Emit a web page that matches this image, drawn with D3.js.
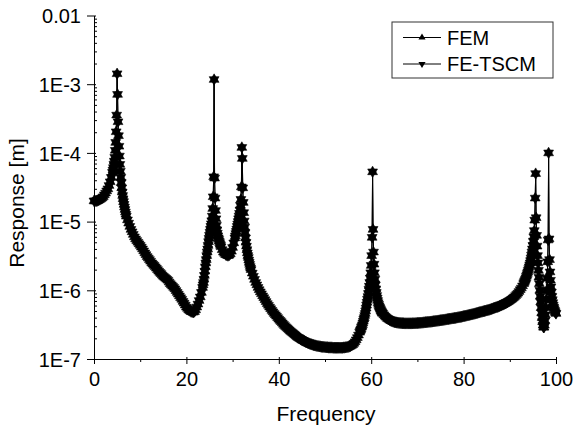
<!DOCTYPE html>
<html>
<head>
<meta charset="utf-8">
<script src="https://cdn.jsdelivr.net/npm/d3@7"></script>
<style>
  body { margin: 0; background: #fff; }
  svg text { font-family: "Liberation Sans", Arial, sans-serif; fill: #000; }
</style>
</head>
<body>
<svg id="chart" width="573" height="430"></svg>
<script>
// response, sweep every 0.25 Hz from 0 to 100 Hz (8 values = 2 Hz per row)
const baseStep = 0.25;
const baseResp = [
  2.0e-5, 2.0e-5, 2.0e-5, 2.02e-5, 2.05e-5, 2.1e-5, 2.15e-5, 2.22e-5,
  2.3e-5, 2.45e-5, 2.6e-5, 2.8e-5, 3.0e-5, 3.35e-5, 3.8e-5, 4.4e-5,
  5.2e-5, 6.4e-5, 8.6e-5, 1.7e-4, 1.42e-3, 2.3e-4, 9.0e-5, 4.9e-5,
  3.1e-5, 2.3e-5, 1.78e-5, 1.45e-5, 1.2e-5, 1.06e-5, 9.5e-6, 8.5e-6,
  7.7e-6, 7.1e-6, 6.5e-6, 6.0e-6, 5.6e-6, 5.3e-6, 5.0e-6, 4.75e-6,
  4.5e-6, 4.25e-6, 4.0e-6, 3.75e-6, 3.5e-6, 3.3e-6, 3.1e-6, 2.95e-6,
  2.8e-6, 2.65e-6, 2.5e-6, 2.4e-6, 2.3e-6, 2.2e-6, 2.1e-6, 2.0e-6,
  1.9e-6, 1.82e-6, 1.75e-6, 1.67e-6, 1.6e-6, 1.55e-6, 1.5e-6, 1.45e-6,
  1.4e-6, 1.32e-6, 1.25e-6, 1.2e-6, 1.15e-6, 1.1e-6, 1.05e-6, 9.9e-7,
  9.3e-7, 8.8e-7, 8.3e-7, 7.8e-7, 7.4e-7, 6.9e-7, 6.5e-7, 6.1e-7,
  5.7e-7, 5.45e-7, 5.2e-7, 5.05e-7, 4.9e-7, 4.85e-7, 4.8e-7, 4.9e-7,
  5.2e-7, 5.7e-7, 6.3e-7, 7.1e-7, 8.0e-7, 9.3e-7, 1.1e-6, 1.45e-6,
  1.9e-6, 2.6e-6, 3.6e-6, 4.8e-6, 6.3e-6, 8.0e-6, 1.03e-5, 1.4e-5,
  1.17e-3, 1.3e-5, 8.8e-6, 6.5e-6, 5.5e-6, 4.8e-6, 4.3e-6, 3.9e-6,
  3.6e-6, 3.45e-6, 3.3e-6, 3.25e-6, 3.2e-6, 3.25e-6, 3.4e-6, 3.7e-6,
  4.2e-6, 4.9e-6, 5.8e-6, 7.0e-6, 8.5e-6, 1.05e-5, 1.32e-5, 1.9e-5,
  1.2e-4, 2.4e-5, 1.02e-5, 6.3e-6, 4.4e-6, 3.4e-6, 2.75e-6, 2.3e-6,
  2.0e-6, 1.78e-6, 1.6e-6, 1.44e-6, 1.3e-6, 1.2e-6, 1.1e-6, 1.02e-6,
  9.5e-7, 8.9e-7, 8.3e-7, 7.8e-7, 7.3e-7, 6.85e-7, 6.4e-7, 6.05e-7,
  5.7e-7, 5.4e-7, 5.1e-7, 4.85e-7, 4.6e-7, 4.4e-7, 4.2e-7, 4.0e-7,
  3.8e-7, 3.65e-7, 3.5e-7, 3.35e-7, 3.2e-7, 3.07e-7, 2.95e-7, 2.85e-7,
  2.75e-7, 2.65e-7, 2.55e-7, 2.47e-7, 2.4e-7, 2.32e-7, 2.25e-7, 2.17e-7,
  2.1e-7, 2.05e-7, 2.0e-7, 1.95e-7, 1.9e-7, 1.86e-7, 1.82e-7, 1.78e-7,
  1.75e-7, 1.72e-7, 1.69e-7, 1.66e-7, 1.64e-7, 1.62e-7, 1.6e-7, 1.58e-7,
  1.57e-7, 1.55e-7, 1.54e-7, 1.53e-7, 1.52e-7, 1.51e-7, 1.5e-7, 1.5e-7,
  1.49e-7, 1.48e-7, 1.48e-7, 1.47e-7, 1.47e-7, 1.47e-7, 1.47e-7, 1.46e-7,
  1.46e-7, 1.46e-7, 1.46e-7, 1.46e-7, 1.46e-7, 1.46e-7, 1.46e-7, 1.46e-7,
  1.47e-7, 1.47e-7, 1.48e-7, 1.49e-7, 1.5e-7, 1.52e-7, 1.54e-7, 1.58e-7,
  1.62e-7, 1.69e-7, 1.78e-7, 1.9e-7, 2.05e-7, 2.23e-7, 2.45e-7, 2.7e-7,
  3.0e-7, 3.45e-7, 4.0e-7, 4.8e-7, 6.1e-7, 7.7e-7, 1.03e-6, 1.4e-6,
  2.3e-6, 1.5e-5, 3.6e-6, 1.6e-6, 1.05e-6, 8.0e-7, 6.6e-7, 5.8e-7,
  5.2e-7, 4.9e-7, 4.6e-7, 4.4e-7, 4.2e-7, 4.05e-7, 3.9e-7, 3.8e-7,
  3.7e-7, 3.62e-7, 3.55e-7, 3.5e-7, 3.45e-7, 3.42e-7, 3.4e-7, 3.38e-7,
  3.36e-7, 3.34e-7, 3.33e-7, 3.32e-7, 3.31e-7, 3.3e-7, 3.3e-7, 3.3e-7,
  3.3e-7, 3.3e-7, 3.3e-7, 3.3e-7, 3.31e-7, 3.31e-7, 3.32e-7, 3.33e-7,
  3.34e-7, 3.35e-7, 3.36e-7, 3.37e-7, 3.38e-7, 3.4e-7, 3.41e-7, 3.43e-7,
  3.44e-7, 3.46e-7, 3.47e-7, 3.49e-7, 3.5e-7, 3.52e-7, 3.54e-7, 3.56e-7,
  3.58e-7, 3.6e-7, 3.62e-7, 3.64e-7, 3.66e-7, 3.68e-7, 3.7e-7, 3.72e-7,
  3.75e-7, 3.77e-7, 3.8e-7, 3.82e-7, 3.85e-7, 3.87e-7, 3.9e-7, 3.92e-7,
  3.95e-7, 3.97e-7, 4.0e-7, 4.03e-7, 4.06e-7, 4.09e-7, 4.12e-7, 4.16e-7,
  4.2e-7, 4.23e-7, 4.27e-7, 4.31e-7, 4.35e-7, 4.39e-7, 4.43e-7, 4.46e-7,
  4.5e-7, 4.55e-7, 4.6e-7, 4.65e-7, 4.7e-7, 4.75e-7, 4.8e-7, 4.85e-7,
  4.9e-7, 4.95e-7, 5.0e-7, 5.05e-7, 5.1e-7, 5.15e-7, 5.2e-7, 5.27e-7,
  5.35e-7, 5.42e-7, 5.5e-7, 5.57e-7, 5.65e-7, 5.72e-7, 5.8e-7, 5.9e-7,
  6.0e-7, 6.1e-7, 6.2e-7, 6.32e-7, 6.45e-7, 6.6e-7, 6.75e-7, 6.92e-7,
  7.1e-7, 7.3e-7, 7.5e-7, 7.75e-7, 8.0e-7, 8.35e-7, 8.7e-7, 9.1e-7,
  9.6e-7, 1.02e-6, 1.08e-6, 1.16e-6, 1.25e-6, 1.38e-6, 1.52e-6, 1.72e-6,
  1.95e-6, 2.3e-6, 2.7e-6, 3.4e-6, 4.5e-6, 8.0e-6, 2.2e-5, 8.0e-6,
  3.2e-6, 1.6e-6, 1.0e-6, 6.2e-7, 4.0e-7, 3.0e-7, 3.1e-7, 5.0e-7,
  1.0e-6, 2.6e-6, 5.6e-6, 1.3e-6, 9.4e-7, 6.4e-7, 5.7e-7, 5.0e-7,
  4.6e-7
];

// finer sweep (0.1 Hz) around the resonances, replaces the coarse samples there
const fineStep = 0.1;
const nearPeak5Start = 4.1;
const nearPeak5 = [
  5.6e-5, 6.1e-5, 6.8e-5, 7.6e-5, 8.6e-5, 1.09e-4, 1.42e-4, 2.03e-4, 3.55e-4, 1.42e-3,
  7.1e-4, 2.84e-4, 1.78e-4, 1.25e-4, 9.0e-5, 6.8e-5, 5.4e-5, 4.4e-5, 3.7e-5, 3.1e-5,
  2.7e-5, 2.4e-5, 2.15e-5, 1.95e-5, 1.78e-5, 1.63e-5, 1.5e-5, 1.38e-5, 1.28e-5
];
const nearPeak26Start = 23.6;
const nearPeak26 = [
  1.2e-6, 1.3e-6, 1.45e-6, 1.65e-6, 1.9e-6, 2.2e-6, 2.5e-6, 2.8e-6, 3.2e-6, 3.6e-6,
  4.0e-6, 4.5e-6, 5.1e-6, 5.7e-6, 6.3e-6, 7.0e-6, 7.7e-6, 8.5e-6, 9.3e-6, 1.03e-5,
  1.2e-5, 1.55e-5, 2.3e-5, 4.5e-5, 1.17e-3, 4.3e-5, 2.2e-5, 1.45e-5, 1.1e-5, 8.8e-6,
  7.6e-6, 6.8e-6, 6.2e-6, 5.8e-6, 5.5e-6, 5.2e-6, 4.95e-6, 4.7e-6, 4.5e-6
];
const nearPeak32Start = 30.6;
const nearPeak32 = [
  6.2e-6, 6.7e-6, 7.2e-6, 7.8e-6, 8.5e-6, 9.2e-6, 1.0e-5, 1.1e-5, 1.2e-5, 1.32e-5,
  1.48e-5, 1.72e-5, 2.1e-5, 3.2e-5, 1.2e-4, 8.3e-5, 3.1e-5, 1.9e-5, 1.35e-5, 1.02e-5,
  8.3e-6, 6.9e-6, 5.8e-6, 5.0e-6, 4.4e-6, 3.9e-6, 3.5e-6, 3.2e-6, 3.0e-6, 2.75e-6,
  2.55e-6, 2.38e-6, 2.22e-6, 2.1e-6, 2.0e-6
];
const nearPeak60Start = 57.6;
const nearPeak60 = [
  2.55e-7, 2.65e-7, 2.75e-7, 2.9e-7, 3.0e-7, 3.15e-7, 3.35e-7, 3.55e-7, 3.8e-7, 4.0e-7,
  4.3e-7, 4.6e-7, 5.0e-7, 5.5e-7, 6.1e-7, 6.7e-7, 7.4e-7, 8.1e-7, 9.0e-7, 1.03e-6,
  1.15e-6, 1.3e-6, 1.5e-6, 1.8e-6, 2.3e-6, 3.2e-6, 5.9e-6, 5.3e-5, 7.7e-6, 3.6e-6,
  2.4e-6, 1.8e-6, 1.45e-6, 1.2e-6, 1.05e-6, 9.3e-7, 8.4e-7, 7.7e-7, 7.1e-7, 6.6e-7,
  6.25e-7, 5.95e-7, 5.7e-7, 5.5e-7, 5.3e-7, 5.1e-7, 4.95e-7, 4.8e-7, 4.7e-7
];
const nearPeak96Start = 93.1;
const nearPeak96 = [
  1.3e-6, 1.35e-6, 1.4e-6, 1.45e-6, 1.52e-6, 1.6e-6, 1.68e-6, 1.76e-6, 1.85e-6, 1.95e-6,
  2.07e-6, 2.2e-6, 2.35e-6, 2.5e-6, 2.7e-6, 2.95e-6, 3.25e-6, 3.6e-6, 4.0e-6, 4.5e-6,
  5.2e-6, 6.0e-6, 7.4e-6, 1.05e-5, 2.2e-5, 5.0e-5, 1.14e-5, 6.3e-6, 4.4e-6, 3.2e-6,
  2.5e-6, 1.95e-6, 1.55e-6, 1.25e-6, 1.0e-6, 8.2e-7, 6.8e-7, 5.6e-7, 4.7e-7, 4.0e-7,
  3.5e-7, 3.1e-7, 2.9e-7, 2.9e-7, 3.1e-7, 3.6e-7, 4.4e-7, 5.6e-7, 7.4e-7, 1.0e-6,
  1.5e-6, 2.6e-6, 5.4e-6, 1.0e-4, 5.6e-6, 2.8e-6, 1.85e-6, 1.4e-6, 1.12e-6, 9.4e-7,
  8.2e-7, 7.3e-7, 6.6e-7, 6.1e-7, 5.7e-7, 5.4e-7, 5.1e-7, 4.9e-7, 4.7e-7, 4.6e-7
];

const xTicks = [0, 20, 40, 60, 80, 100];
const xMinorTicks = [10, 30, 50, 70, 90];
const yTicks = [1e-7, 1e-6, 1e-5, 1e-4, 1e-3, 1e-2];
const yTickLabels = ["1E-7", "1E-6", "1E-5", "1E-4", "1E-3", "0.01"];
const seriesNames = ["FEM", "FE-TSCM"];

// merge coarse + fine samples
const fineSets = [
  [nearPeak5Start, nearPeak5], [nearPeak26Start, nearPeak26], [nearPeak32Start, nearPeak32],
  [nearPeak60Start, nearPeak60], [nearPeak96Start, nearPeak96]
];
const inFine = f => fineSets.some(([s, vals]) => f > s - 0.06 && f < s + (vals.length - 1) * fineStep + 0.06);
let femData = [];
baseResp.forEach((v, i) => {
  const f = i * baseStep;
  if (!inFine(f)) femData.push({ f: f, v: v });
});
fineSets.forEach(([s, vals]) => {
  vals.forEach((v, i) => femData.push({ f: +(s + i * fineStep).toFixed(2), v: v }));
});
femData.sort((a, b) => a.f - b.f);
// FE-TSCM lies on top of FEM everywhere in the figure
const tscmData = femData;

const svg = d3.select("#chart");

const x = d3.scaleLinear().domain([0, 100]).range([94, 556]);
const y = d3.scaleLog().domain([1e-7, 1e-2]).range([359, 15.5]);

// x axis
const xAxis = svg.append("g")
  .attr("transform", "translate(0,359)")
  .call(d3.axisBottom(x).tickValues(xTicks).tickSize(5).tickSizeOuter(0).tickFormat(d3.format("d")));
xAxis.selectAll(".tick line").attr("y1", -2);
xAxis.selectAll(".tick text").attr("y", 27).attr("dy", null).style("font-size", "20px");

svg.append("g")
  .attr("transform", "translate(0,359)")
  .call(d3.axisBottom(x).tickValues(xMinorTicks).tickSize(3).tickFormat(""))
  .select(".domain").remove();

// y axis
const yAxis = svg.append("g")
  .attr("transform", "translate(94,0)")
  .call(d3.axisLeft(y).tickValues(yTicks).tickSize(7).tickSizeOuter(0)
    .tickFormat((d, i) => yTickLabels[i]));
yAxis.selectAll(".tick line").attr("x1", 2);
yAxis.selectAll(".tick text").attr("x", -13).attr("dy", "0.36em").style("font-size", "20px");

const yMinor = [];
[-7, -6, -5, -4, -3].forEach(e => {
  for (let m = 2; m <= 9; m++) yMinor.push(m * Math.pow(10, e));
});
svg.append("g")
  .attr("transform", "translate(94,0)")
  .call(d3.axisRight(y).tickValues(yMinor).tickSize(3).tickFormat(""))
  .select(".domain").remove();

// axis titles
svg.append("text")
  .attr("x", 326).attr("y", 421)
  .attr("text-anchor", "middle")
  .style("font-size", "21px")
  .text("Frequency");
svg.append("text")
  .attr("transform", "translate(24,203) rotate(-90)")
  .attr("text-anchor", "middle")
  .style("font-size", "21px")
  .text("Response [m]");

// series: line + up triangles (FEM), line + down triangles (FE-TSCM)
const line = d3.line().x(d => x(d.f)).y(d => y(d.v));
const tri = d3.symbol().type(d3.symbolTriangle).size(42);
const series = [
  { name: seriesNames[0], data: femData, rot: 0 },
  { name: seriesNames[1], data: tscmData, rot: 180 }
];

series.forEach(s => {
  svg.append("path")
    .datum(s.data)
    .attr("fill", "none")
    .attr("stroke", "#000")
    .attr("stroke-width", 1)
    .attr("d", line);
  svg.append("g")
    .selectAll("path")
    .data(s.data)
    .enter()
    .append("path")
    .attr("d", tri)
    .attr("fill", "#000")
    .attr("stroke", "#000")
    .attr("stroke-width", 0.6)
    .attr("transform", d => `translate(${x(d.f)},${y(d.v)}) rotate(${s.rot})`);
});

// legend
const legend = svg.append("g");
legend.append("rect")
  .attr("x", 392).attr("y", 22)
  .attr("width", 161).attr("height", 56)
  .attr("fill", "#fff")
  .attr("stroke", "#333")
  .attr("stroke-width", 1);
const legendTri = d3.symbol().type(d3.symbolTriangle).size(22);
series.forEach((s, i) => {
  const ly = 37.5 + i * 26.5;
  legend.append("line")
    .attr("x1", 403).attr("x2", 441)
    .attr("y1", ly).attr("y2", ly)
    .attr("stroke", "#000").attr("stroke-width", 1);
  legend.append("path")
    .attr("d", legendTri)
    .attr("fill", "#000")
    .attr("transform", `translate(422,${ly}) rotate(${s.rot})`);
  legend.append("text")
    .attr("x", 447).attr("y", ly + 7)
    .style("font-size", "20px")
    .text(s.name);
});
</script>
</body>
</html>
